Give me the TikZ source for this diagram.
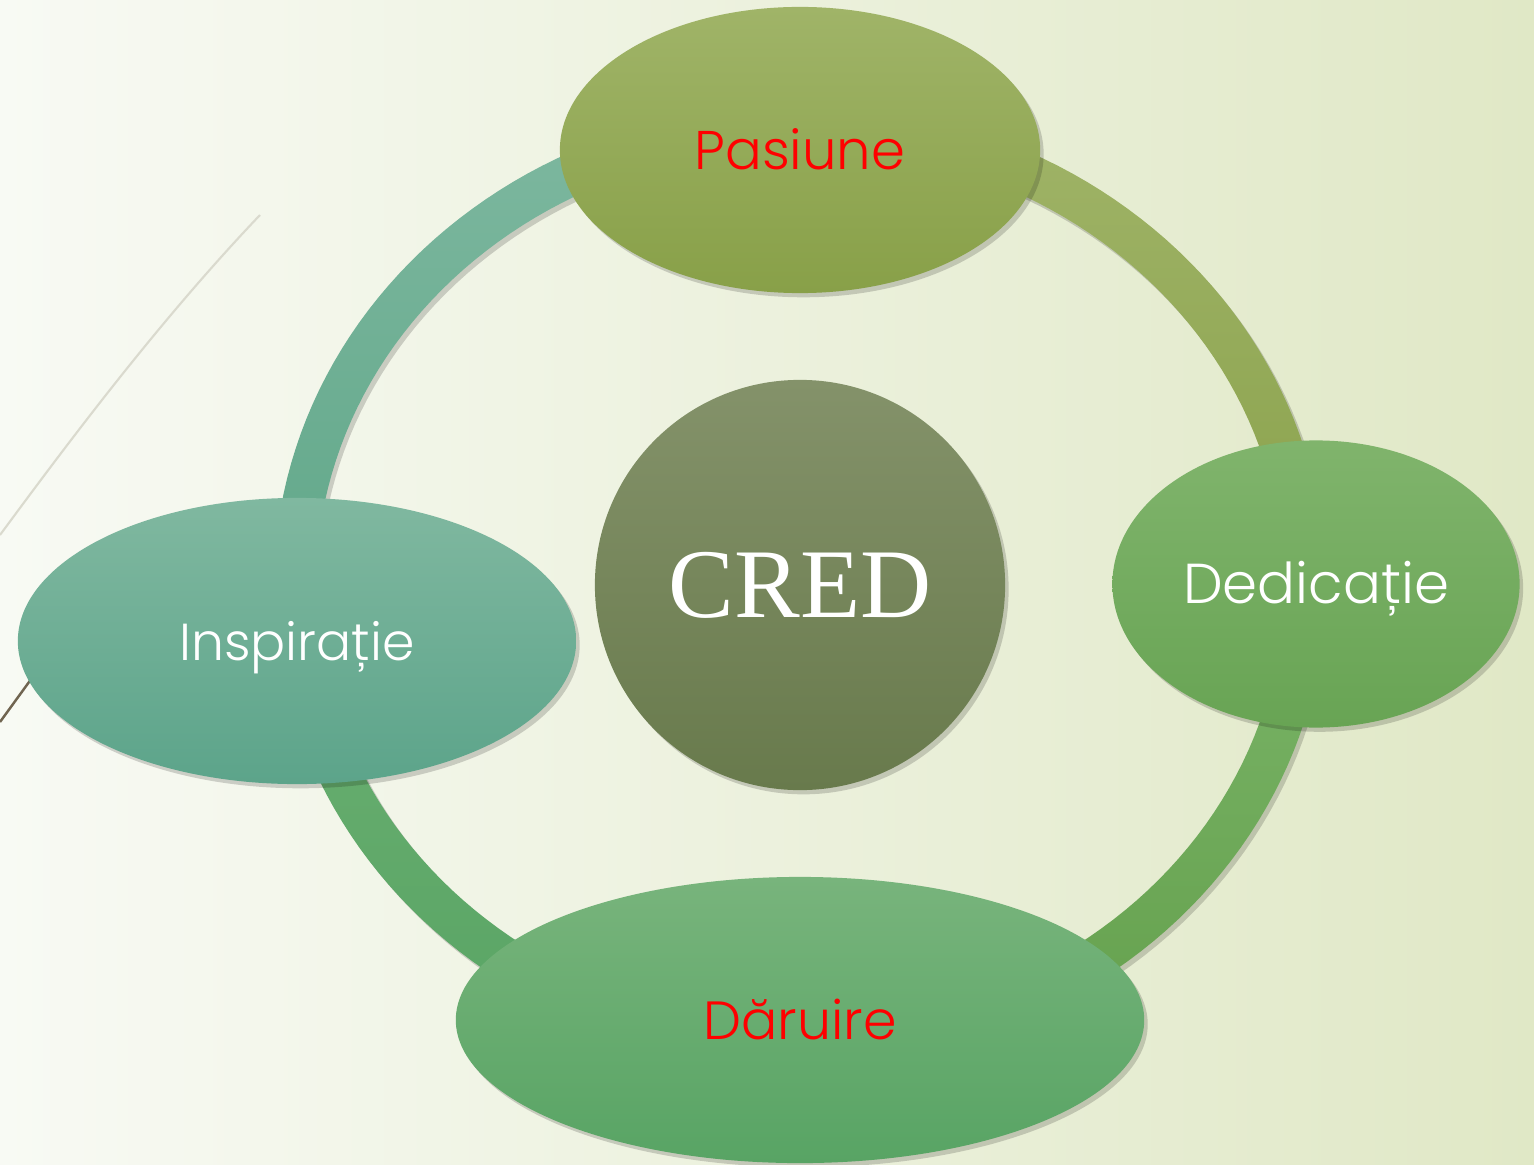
\documentclass[tikz,border=0pt]{standalone}
\usepackage{fontspec}
\newfontfamily\lblfont{Poppins Light}
\newfontfamily\credfont{Liberation Serif}
\usepackage{tikz}
\usetikzlibrary{%
        math,
        shapes.geometric, % ellipse
        shadows,
    }
% background
\definecolor{bgLeft}{HTML}{F8FAF4}
\definecolor{bgMid}{HTML}{F3F6EA}
\definecolor{bgRight}{HTML}{E0E8C6}
% ring
\definecolor{ringTLtop}{HTML}{7EB8A0}
\definecolor{ringTLbot}{HTML}{62A88A}
\definecolor{ringTRtop}{HTML}{A0B468}
\definecolor{ringTRbot}{HTML}{8AA24C}
\definecolor{ringBRtop}{HTML}{7AB468}
\definecolor{ringBRbot}{HTML}{64A04C}
\definecolor{ringBLtop}{HTML}{6CB072}
\definecolor{ringBLbot}{HTML}{58A464}
% nodes
\definecolor{pasTop}{HTML}{A0B468}
\definecolor{pasBot}{HTML}{88A048}
\definecolor{dedTop}{HTML}{80B46C}
\definecolor{dedBot}{HTML}{68A454}
\definecolor{insTop}{HTML}{80B8A0}
\definecolor{insBot}{HTML}{5CA48A}
\definecolor{darTop}{HTML}{78B47C}
\definecolor{darBot}{HTML}{58A464}
\definecolor{credTop}{HTML}{84926A}
\definecolor{credBot}{HTML}{687A4C}

\begin{document}
\begin{tikzpicture}[x=0.01cm, y=-0.01cm]
    \tikzmath{%
        % centre of the ring
        \cx=800;
        \cy=585;
        % radii of the ring
        \ra=505;
        \rb=460;
        \halfw=21;
    };

    \tikzset{%
        softshadow/.style={drop shadow={shadow xshift=1pt, shadow yshift=-1.2pt, opacity=0.17, fill=black}},
        bubble/.style={ellipse, inner sep=0pt, softshadow, text height=11pt, text depth=0pt},
        labelsize/.style={font={\lblfont\fontsize{#1}{#1}\selectfont}},
    }

    % background
    \shade [left color=bgLeft, middle color=bgMid, right color=bgRight] (0, 0) rectangle (1534, 1164);
    \useasboundingbox (0, 0) rectangle (1534, 1164);

    % theme lines
    \draw [color={rgb,255:red,218;green,218;blue,206}, line width=0.6pt] (260, 215) .. controls (160, 320) and (70, 440) .. (0, 535);
    \draw [color={rgb,255:red,112;green,100;blue,80}, line width=0.7pt] (45, 660) -- (0, 722);

    % ring
    \foreach \ta/\tb/\ctop/\cbot in {90/180/ringTLtop/ringTLbot, 0/90/ringTRtop/ringTRbot, -90/0/ringBRtop/ringBRbot, 180/270/ringBLtop/ringBLbot} {%
            \shade [top color=\ctop, bottom color=\cbot, softshadow]
            plot [domain=\ta:\tb, samples=50] ({\cx+(\ra+\halfw)*cos(\x)}, {\cy-(\rb+\halfw)*sin(\x)})
            -- plot [domain=\tb:\ta, samples=50] ({\cx+(\ra-\halfw)*cos(\x)}, {\cy-(\rb-\halfw)*sin(\x)}) -- cycle;
        };

    % nodes
    \node (cred) [circle, minimum size=4.1cm, inner sep=0pt, top color=credTop, bottom color=credBot, softshadow,
        text=white, font={\credfont\fontsize{28}{28}\selectfont}] at (800, 585) {CRED};
    \node (pasiune) [bubble, minimum width=4.8cm, minimum height=2.86cm, top color=pasTop, bottom color=pasBot,
        text=red, labelsize=15.5] at (800, 150) {Pasiune};
    \node (dedicatie) [bubble, minimum width=4.07cm, minimum height=2.87cm, top color=dedTop, bottom color=dedBot,
        text=white, labelsize=16] at (1316, 584) {Dedicație};
    \node (inspiratie) [bubble, minimum width=5.58cm, minimum height=2.86cm, top color=insTop, bottom color=insBot,
        text=white, labelsize=14.8] at (297, 641) {Inspirație};
    \node (daruire) [bubble, minimum width=6.88cm, minimum height=2.86cm, top color=darTop, bottom color=darBot,
        text=red, labelsize=15.3] at (800, 1020) {Dăruire};
\end{tikzpicture}
\end{document}
